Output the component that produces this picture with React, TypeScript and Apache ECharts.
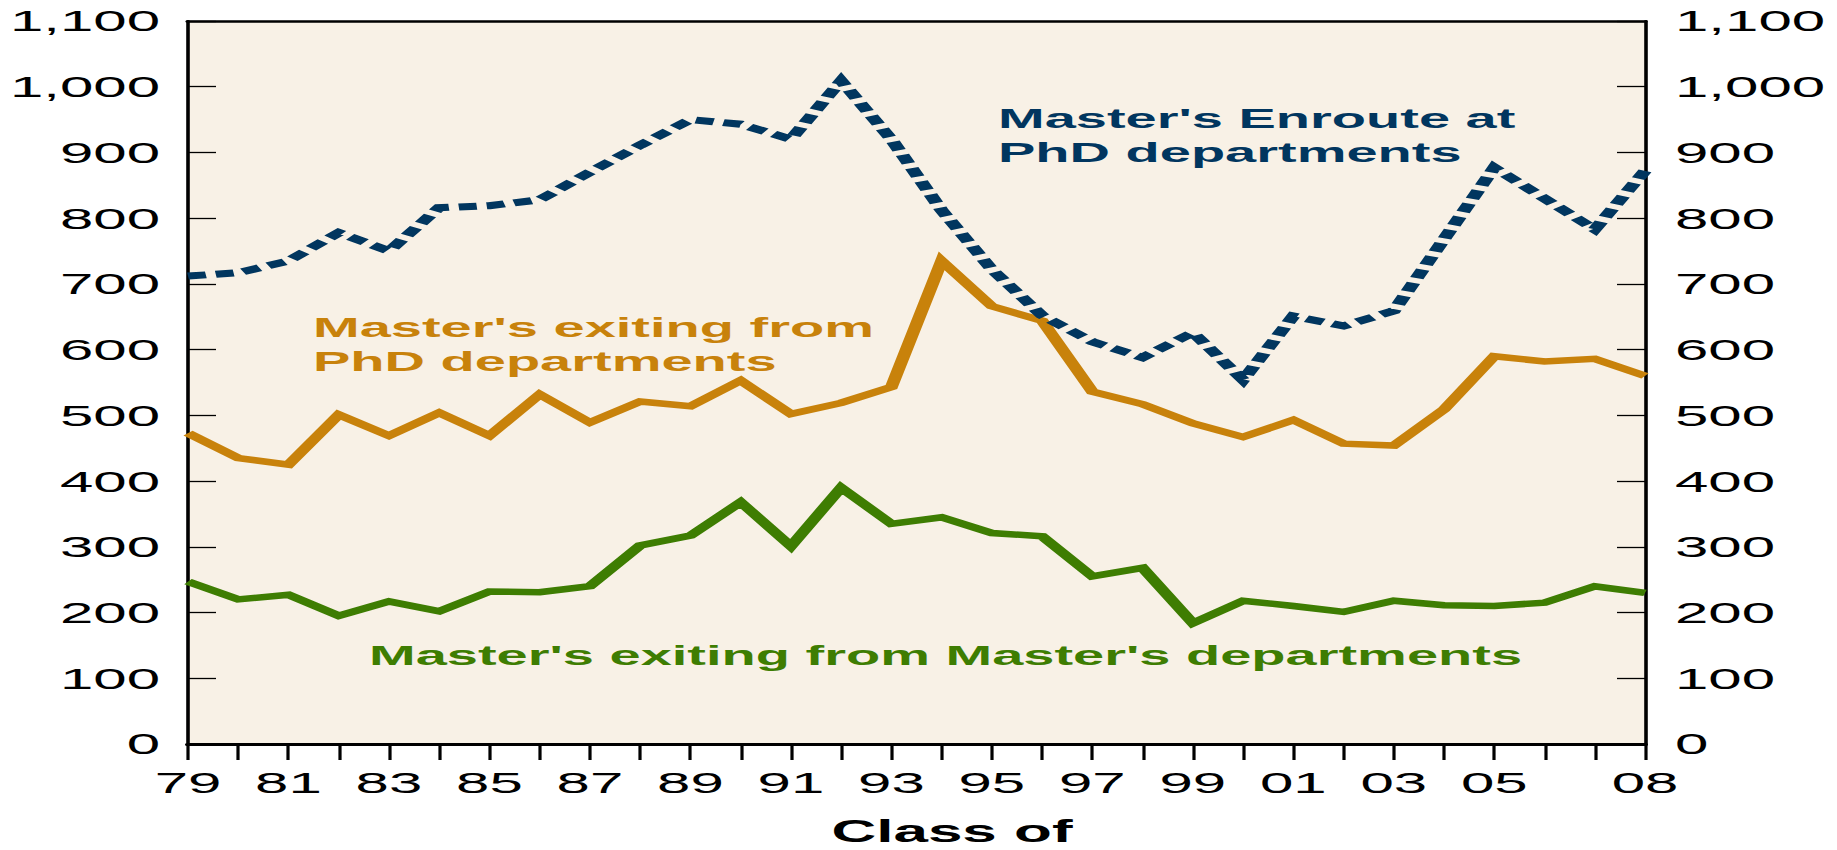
import React, { useEffect, useRef } from "react";
import * as echarts from "echarts";

const years = ["79","80","81","82","83","84","85","86","87","88","89","90","91","92","93","94","95","96","97","98","99","00","01","02","03","04","05","06","07","08"];
const enroutePhD = [712,717,735,778,750,816,819,828,870,911,950,943,920,1009,920,812,722,652,612,588,626,554,651,636,659,768,877,830,783,872];
const exitPhD = [473,435,425,501,469,504,469,532,489,521,514,553,502,519,543,735,666,644,536,517,488,467,493,457,454,509,590,582,586,560];
const exitMasters = [247,220,227,195,217,202,232,231,240,302,317,368,301,390,335,345,321,316,255,268,184,218,210,201,218,211,210,215,240,230];
const labelledYears = ["79","81","83","85","87","89","91","93","95","97","99","01","03","05","08"];

const NAVY = "#01365f";
const ORANGE = "#c8820b";
const GREEN = "#3e7d02";
const BG = "#f8f1e6";
const FONT = "'Liberation Sans', Arial, sans-serif";

const INNER_W = 918;
const H = 850;

export default function App() {
  const ref = useRef<HTMLDivElement>(null);
  useEffect(() => {
    if (!ref.current) return;
    const chart = echarts.init(ref.current, null, { renderer: "svg" });
    const yAxisCommon = {
      type: "value",
      min: 0,
      max: 1100,
      interval: 100,
      splitLine: { show: false },
      axisLine: { show: true, lineStyle: { color: "#000", width: 1.8 } },
      axisTick: { show: true, inside: true, length: 14, lineStyle: { color: "#000", width: 1.3 } },
      axisLabel: {
        color: "#000",
        fontFamily: FONT,
        fontSize: 30,
        formatter: (v: number) => v.toLocaleString("en-US"),
      },
    };
    chart.setOption({
      animation: false,
      backgroundColor: "#fff",
      grid: {
        left: 94,
        right: INNER_W - 822.5,
        top: 21,
        bottom: H - 744,
        show: true,
        backgroundColor: BG,
        borderWidth: 0,
        containLabel: false,
      },
      xAxis: [
        {
          type: "category",
          data: years,
          boundaryGap: false,
          axisLine: { show: true, lineStyle: { color: "#000", width: 3 } },
          axisTick: { show: true, inside: false, length: 16, interval: 0, lineStyle: { color: "#000", width: 1.6 } },
          axisLabel: {
            color: "#000",
            fontFamily: FONT,
            fontSize: 30,
            margin: 39,
            verticalAlign: "middle",
            interval: (i: number, v: string) => labelledYears.includes(v),
          },
          splitLine: { show: false },
        },
        {
          type: "category",
          data: years,
          position: "top",
          boundaryGap: false,
          axisLine: { show: true, onZero: false, lineStyle: { color: "#000", width: 2.7 } },
          axisTick: { show: false },
          axisLabel: { show: false },
          splitLine: { show: false },
        },
      ],
      yAxis: [
        { ...yAxisCommon, position: "left", axisLabel: { ...yAxisCommon.axisLabel, margin: 14 } },
        { ...yAxisCommon, position: "right", axisLabel: { ...yAxisCommon.axisLabel, margin: 15 } },
      ],
      series: [
        {
          name: "Master's Enroute at PhD departments",
          type: "line",
          data: enroutePhD,
          symbol: "none",
          lineStyle: { color: NAVY, width: 7, type: [9, 5], cap: "butt", join: "miter" },
          z: 3,
        },
        {
          name: "Master's exiting from PhD departments",
          type: "line",
          data: exitPhD,
          symbol: "none",
          lineStyle: { color: ORANGE, width: 6.5, join: "miter" },
          z: 2,
        },
        {
          name: "Master's exiting from Master's departments",
          type: "line",
          data: exitMasters,
          symbol: "none",
          lineStyle: { color: GREEN, width: 6.5, join: "miter" },
          z: 2,
        },
      ],
      graphic: [
        { type: "text", x: 499, y: 118, style: { text: "Master's Enroute at", fill: NAVY, font: `bold 28px ${FONT}`, align: "left", verticalAlign: "middle" } },
        { type: "text", x: 499, y: 152, style: { text: "PhD departments", fill: NAVY, font: `bold 28px ${FONT}`, align: "left", verticalAlign: "middle" } },
        { type: "text", x: 156.5, y: 327, style: { text: "Master's exiting from", fill: ORANGE, font: `bold 28px ${FONT}`, align: "left", verticalAlign: "middle" } },
        { type: "text", x: 156.5, y: 361, style: { text: "PhD departments", fill: ORANGE, font: `bold 28px ${FONT}`, align: "left", verticalAlign: "middle" } },
        { type: "text", x: 184.5, y: 655, style: { text: "Master's exiting from Master's departments", fill: GREEN, font: `bold 28px ${FONT}`, align: "left", verticalAlign: "middle" } },
        { type: "text", x: 476, y: 831, style: { text: "Class of", fill: "#000", font: `bold 31px ${FONT}`, align: "center", verticalAlign: "middle" } },
      ],
    });
    return () => chart.dispose();
  }, []);
  return (
    <div
      ref={ref}
      style={{
        position: "absolute",
        left: 0,
        top: 0,
        width: INNER_W,
        height: H,
        transform: "scaleX(2)",
        transformOrigin: "0 0",
      }}
    />
  );
}
